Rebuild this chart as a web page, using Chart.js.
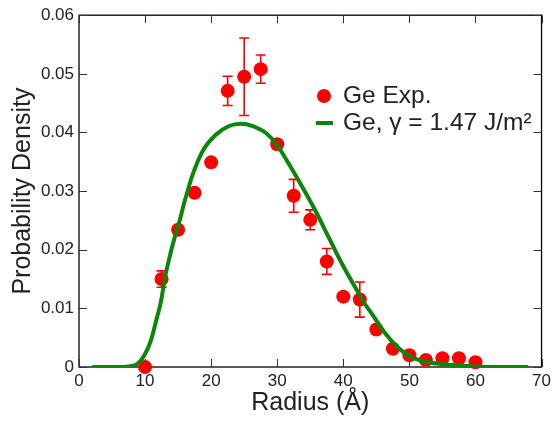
<!DOCTYPE html>
<html>
<head>
<meta charset="utf-8">
<script src="https://cdn.jsdelivr.net/npm/chart.js@4.4.1/dist/chart.umd.min.js"></script>
<style>
  html,body{margin:0;padding:0;background:#fff;}
  #wrap{width:555px;height:423px;position:relative;}
</style>
</head>
<body>
<div id="wrap"><canvas id="c" width="555" height="423"></canvas></div>
<script>
// ---- Data ----
const expRadius = [10, 12.5, 15, 17.5, 20, 22.5, 25, 27.5, 30, 32.5, 35, 37.5, 40, 42.5, 45, 47.5, 50, 52.5, 55, 57.5, 60];
const expDensity = [0, 0.0150, 0.0234, 0.0297, 0.0349, 0.0471, 0.0495, 0.0508, 0.0380, 0.0292, 0.0251, 0.0180, 0.0120, 0.0115, 0.0064, 0.0031, 0.0020, 0.0012, 0.0015, 0.0015, 0.0008];
const expError = [0, 0.0014, 0, 0, 0.0005, 0.0025, 0.0066, 0.0024, 0.0007, 0.0028, 0.0017, 0.0022, 0, 0.0030, 0, 0, 0, 0, 0, 0, 0];

const fitRadius = [2, 6, 7.5, 8.9, 9.9, 10.9, 11.7, 12.45, 12.95, 13.7, 14.5, 15.0, 16.0, 17.2, 18.7, 20.7, 22.7, 24.5, 26.3, 28.3, 30.0, 32.3, 33.8, 35.8, 37.8, 39.8, 41.8, 43.3, 44.3, 46.3, 48.3, 50.3, 52.4, 54.9, 57.4, 60, 64, 68];
const fitDensity = [0, 0, 0.0001, 0.0006, 0.002, 0.0046, 0.008, 0.0114, 0.0149, 0.0187, 0.0222, 0.024, 0.0283, 0.0328, 0.0368, 0.0396, 0.0411, 0.0415, 0.0411, 0.0399, 0.0378, 0.0336, 0.0307, 0.0266, 0.0221, 0.0176, 0.0136, 0.0107, 0.0091, 0.0058, 0.0033, 0.0017, 0.0009, 0.0005, 0.0003, 0.0001, 0, 0];

const xTicks = [0, 10, 20, 30, 40, 50, 60, 70];
const yTicks = [0, 0.01, 0.02, 0.03, 0.04, 0.05, 0.06];

const expLabel = 'Ge Exp.';
const fitLabel = 'Ge, \u03B3 = 1.47 J/m\u00B2';
const xTitle = 'Radius (\u00C5)';
const yTitle = 'Probability Density';

const RED = '#ff0000';
const GREEN = '#0a870a';
const TEXT = '#222222';
const FONT = '"Liberation Sans", Arial, Helvetica, sans-serif';

// ---- Plugins ----
const frameAndErrors = {
  id: 'frameAndErrors',
  beforeDatasetsDraw(chart) {
    const {ctx, chartArea: a, scales: {x, y}} = chart;
    ctx.save();
    // error bars
    ctx.strokeStyle = RED;
    ctx.lineWidth = 1.6;
    for (let i = 0; i < expRadius.length; i++) {
      const e = expError[i];
      if (!e) continue;
      const px = x.getPixelForValue(expRadius[i]);
      const top = y.getPixelForValue(expDensity[i] + e);
      const bot = y.getPixelForValue(expDensity[i] - e);
      ctx.beginPath();
      ctx.moveTo(px, top); ctx.lineTo(px, bot);
      ctx.moveTo(px - 5, top); ctx.lineTo(px + 5, top);
      ctx.moveTo(px - 5, bot); ctx.lineTo(px + 5, bot);
      ctx.stroke();
    }
    // frame
    ctx.strokeStyle = '#000';
    ctx.lineWidth = 1.3;
    ctx.strokeRect(a.left, a.top, a.right - a.left, a.bottom - a.top);
    // inward ticks
    ctx.lineWidth = 1;
    ctx.strokeStyle = '#333';
    const tl = 8;
    ctx.beginPath();
    xTicks.forEach(v => {
      const px = Math.round(x.getPixelForValue(v)) + 0.5;
      ctx.moveTo(px, a.bottom); ctx.lineTo(px, a.bottom - tl);
      ctx.moveTo(px, a.top); ctx.lineTo(px, a.top + tl);
    });
    yTicks.forEach(v => {
      const py = Math.round(y.getPixelForValue(v)) + 0.5;
      ctx.moveTo(a.left, py); ctx.lineTo(a.left + tl, py);
      ctx.moveTo(a.right, py); ctx.lineTo(a.right - tl, py);
    });
    ctx.stroke();
    ctx.restore();
  },
  afterDraw(chart) {
    const {ctx} = chart;
    ctx.save();
    ctx.font = '24.5px ' + FONT;
    ctx.textBaseline = 'middle';
    const ly1 = 96, ly2 = 123;
    ctx.fillStyle = RED;
    ctx.beginPath();
    ctx.arc(324, ly1, 7, 0, Math.PI * 2);
    ctx.fill();
    ctx.strokeStyle = GREEN;
    ctx.lineWidth = 4;
    ctx.beginPath();
    ctx.moveTo(316, ly2); ctx.lineTo(333, ly2);
    ctx.stroke();
    ctx.fillStyle = TEXT;
    ctx.fillText(expLabel, 343, ly1);
    ctx.fillText(fitLabel, 343, ly2);
    ctx.restore();
  }
};

const ctx = document.getElementById('c').getContext('2d');
new Chart(ctx, {
  type: 'scatter',
  data: {
    datasets: [
      {
        type: 'line',
        label: fitLabel,
        data: fitRadius.map((r, i) => ({x: r, y: fitDensity[i]})),
        borderColor: GREEN,
        borderWidth: 4,
        pointRadius: 0,
        fill: false,
        cubicInterpolationMode: 'monotone',
        order: 0
      },
      {
        type: 'scatter',
        label: expLabel,
        data: expRadius.map((r, i) => ({x: r, y: expDensity[i]})),
        backgroundColor: RED,
        borderColor: RED,
        borderWidth: 0,
        pointRadius: 7,
        pointHoverRadius: 7,
        clip: false,
        order: 1
      }
    ]
  },
  options: {
    responsive: false,
    animation: false,
    events: [],
    layout: {padding: {left: 0, right: 11, top: 13, bottom: 0}},
    plugins: {legend: {display: false}, tooltip: {enabled: false}},
    scales: {
      x: {
        type: 'linear', min: 0, max: 70,
        afterBuildTicks: s => { s.ticks = xTicks.map(v => ({value: v})); },
        afterFit: s => { s.height = 56; },
        grid: {display: false, drawTicks: false},
        border: {display: false},
        ticks: {color: TEXT, font: {family: FONT, size: 17}, padding: 4, maxRotation: 0},
        title: {display: true, text: xTitle, color: TEXT, font: {family: FONT, size: 25}, padding: {top: 0, bottom: 5}}
      },
      y: {
        type: 'linear', min: 0, max: 0.06,
        afterBuildTicks: s => { s.ticks = yTicks.map(v => ({value: v})); },
        afterFit: s => { s.width = 79; },
        grid: {display: false, drawTicks: false},
        border: {display: false},
        ticks: {color: TEXT, font: {family: FONT, size: 17}, padding: 5,
          callback: v => String(+(+v).toFixed(2))},
        title: {display: true, text: yTitle, color: TEXT, font: {family: FONT, size: 25}, padding: {top: 8, bottom: 0}}
      }
    }
  },
  plugins: [frameAndErrors]
});
</script>
</body>
</html>
